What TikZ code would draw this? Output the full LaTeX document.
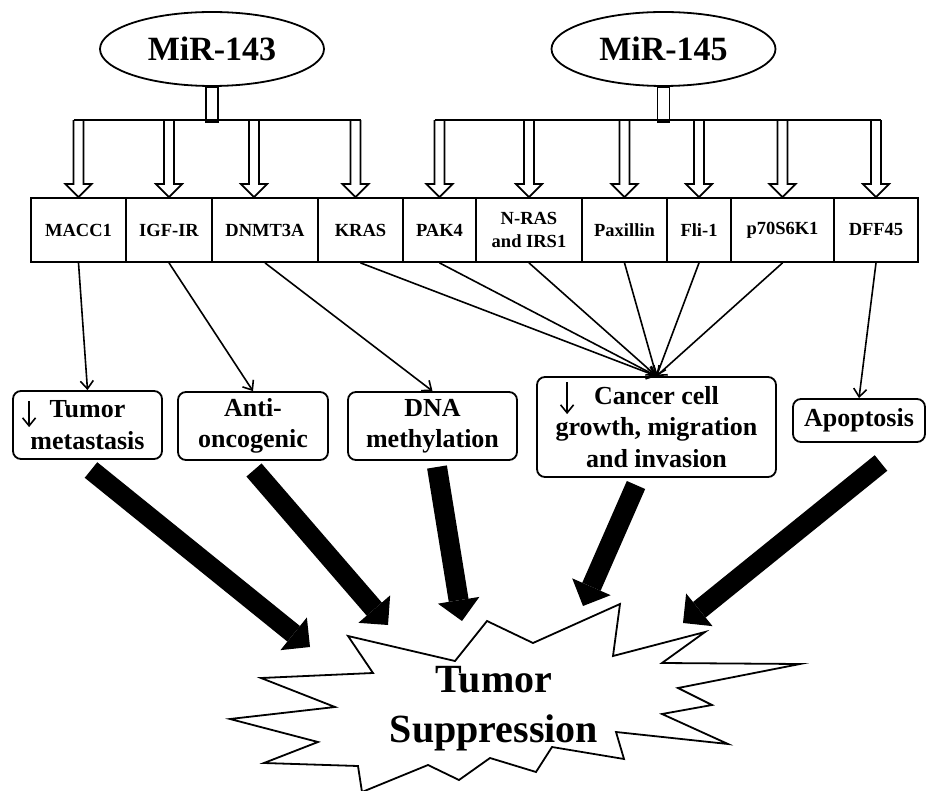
\documentclass[tikz,border=0pt]{standalone}
\usepackage{fontspec}
\setmainfont{Liberation Serif}
\usetikzlibrary{shapes.geometric, arrows.meta, calc, positioning}

\begin{document}
\begin{tikzpicture}[
        x=1pt, y=-1pt,
        every node/.style={text centered, inner sep=0pt, font=\bfseries},
        mirna/.style={ellipse, draw, line width=1.8pt, minimum width=224pt, minimum height=74pt, font=\fontsize{34}{40}\selectfont\bfseries},
        gene/.style={rectangle, draw, line width=1.8pt, minimum height=64pt, align=center, font=\fontsize{18.5}{23}\selectfont\bfseries},
        effect/.style={rectangle, draw, rounded corners=8pt, line width=1.8pt, align=center, font=\fontsize{26}{31.5}\selectfont\bfseries},
        blockarrow/.style={line width=1.8pt, line join=miter},
        link/.style={line width=1.6pt, -{Straight Barb[length=8pt, width=13pt]}},
        bigarrow/.style={line width=20pt, -{Triangle[length=21pt, width=42pt, line width=0pt]}}
    ]
        \useasboundingbox (0,0) rectangle (926,791);

        % MicroRNAs
        \node[mirna] (m143) at (212,49) {MiR-143};
        \node[mirna] (m145) at (663.5,49) {MiR-145};

        % Target genes
        \node[gene, minimum width=95pt] (macc) at (78.5,230) {MACC1};
        \node[gene, minimum width=86pt] (igf) at (169,230) {IGF-IR};
        \node[gene, minimum width=106pt] (dnmt) at (265,230) {DNMT3A};
        \node[gene, minimum width=85pt] (kras) at (360.5,230) {KRAS};
        \node[gene, minimum width=73pt] (pak) at (439.5,230) {PAK4};
        \node[gene, minimum width=106pt] (nras) at (529,230) {N-RAS\\and IRS1};
        \node[gene, minimum width=85pt] (pax) at (624.5,230) {Paxillin};
        \node[gene, minimum width=64pt] (fli) at (699,230) {Fli-1};
        \node[gene, minimum width=103pt] (p70) at (782.5,230) {p70S6K1};
        \node[gene, minimum width=84pt] (dff) at (876,230) {DFF45};

        % Stems and bars
        \draw[blockarrow] ($(m143.south)+(-6,0)$) rectangle ($(m143.south)+(6,35)$);
        \draw[blockarrow] ($(m145.south)+(-6,0)$) rectangle ($(m145.south)+(6,35)$);
        \draw[blockarrow] ($(macc.north)+(-5,-77)$) -- ($(kras.north)+(0,-77)$);
        \draw[blockarrow] ($(pak.north)+(-5,-77)$) -- ($(dff.north)+(5,-77)$);

        % Hollow arrows
        \foreach \n/\dx in {macc/0, igf/0, dnmt/-11, kras/-5, pak/0, nras/0, pax/0, fli/0, p70/0, dff/0}
            \draw[blockarrow] ($(\n.north)+(\dx-5,-77)$) -- ++(0,64) -- ++(-8,0) -- ++(13,13) -- ++(13,-13) -- ++(-8,0) -- ++(0,-64);

        % Effects
        \node[effect, minimum width=149pt, minimum height=68pt] (tm) at (87.5,425) {Tumor\\metastasis};
        \node[effect, minimum width=150pt, minimum height=68pt] (ao) at (253,426) {Anti-\\oncogenic};
        \node[effect, minimum width=169pt, minimum height=68pt] (dna) at (432.5,426) {DNA\\methylation};
        \node[effect, minimum width=239pt, minimum height=100pt] (can) at (656.5,427) {Cancer cell\\growth, migration\\and invasion};
        \node[effect, minimum width=132pt, minimum height=43pt] (apo) at (859,420.5) {Apoptosis};

        % Down marks
        \draw[link] ($(tm.north west)+(17,11)$) -- ++(0,26);
        \draw[link] ($(can.north west)+(31,6)$) -- ++(0,32);

        % Gene to effect
        \draw[link] (macc.south) -- (tm.north);
        \draw[link] (igf.south) -- (ao.north);
        \draw[link] (dnmt.south) -- (dna.north);
        \foreach \n in {kras, pak, nras, pax, fli, p70}
            \draw[link] (\n.south) -- (can.north);
        \draw[link] (dff.south) -- (apo.north);

        % Burst
        \draw[line width=1.8pt, line join=miter, fill=white] (348,636) -- (455,661) -- (487,621) -- (533,643) -- (620,604) -- (613,656) -- (705,632) -- (662,663) -- (800,664) -- (678,688) -- (712,705) -- (662,714) -- (728,744) -- (616,732) -- (624,759) -- (552,747) -- (536,772) -- (490,758) -- (459,780) -- (428,765) -- (362,792) -- (358,766) -- (264,763) -- (318,742) -- (230,719) -- (335,707) -- (261,678) -- (373,673) -- cycle;
        \node[align=center, font=\fontsize{40}{50}\selectfont\bfseries] (supp) at (494,709) {Tumor\\Suppression};

        % Thick arrows
        \coordinate (t1) at (91,470);  \coordinate (h1) at (310,647);
        \coordinate (t2) at (254,470); \coordinate (h2) at (388,625);
        \coordinate (t3) at (437,467); \coordinate (h3) at (462,621);
        \coordinate (t4) at (636,485); \coordinate (h4) at (583,606);
        \coordinate (t5) at (881,463); \coordinate (h5) at (683,623);
        \foreach \i in {1,...,5}
            \draw[bigarrow] (t\i) -- (h\i);
    \end{tikzpicture}
\end{document}
